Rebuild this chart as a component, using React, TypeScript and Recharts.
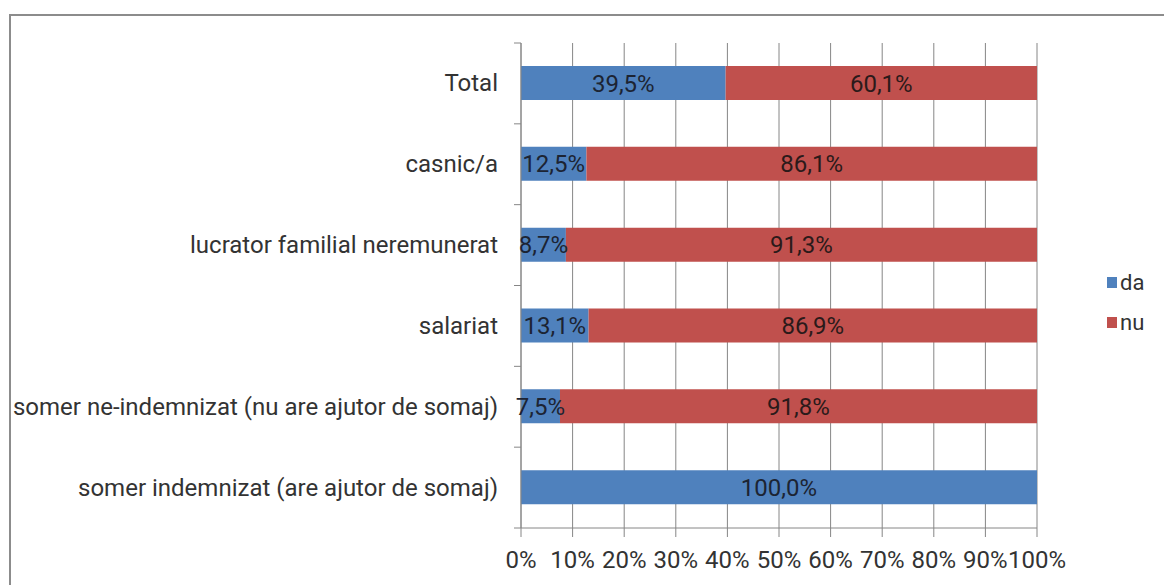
import React from "react";
import {
  BarChart,
  Bar,
  XAxis,
  YAxis,
  CartesianGrid,
  Legend,
  LabelList,
} from "recharts";

const categories = [
  "Total",
  "casnic/a",
  "lucrator familial neremunerat",
  "salariat",
  "somer ne-indemnizat (nu are ajutor de somaj)",
  "somer indemnizat (are ajutor de somaj)",
];
const daValues = [39.5, 12.5, 8.7, 13.1, 7.5, 100.0];
const nuValues = [60.1, 86.1, 91.3, 86.9, 91.8, null];
const xTicks = [0, 0.1, 0.2, 0.3, 0.4, 0.5, 0.6, 0.7, 0.8, 0.9, 1];

const data = categories.map((name, i) => ({
  name,
  da: daValues[i],
  nu: nuValues[i],
}));

const W = 1164;
const H = 585;
const MARGIN = { top: 43, right: 127, bottom: 17, left: 0 };
const X_AXIS_H = 40;
const Y_AXIS_W = 521;
const BAND = (H - MARGIN.top - MARGIN.bottom - X_AXIS_H) / categories.length;

const FONT = "Roboto, 'Liberation Sans', sans-serif";
const BLUE = "#4f81bd";
const RED = "#c0504d";
const AXIS = "#868686";

const fmt = (v: any) =>
  v == null || v === 0 ? "" : `${Number(v).toFixed(1).replace(".", ",")}%`;

function CategoryTick(props: any) {
  const { x, y, payload, index } = props;
  return (
    <g>
      <line x1={x - 7} x2={x} y1={y - BAND / 2} y2={y - BAND / 2} stroke={AXIS} />
      {index === categories.length - 1 && (
        <line x1={x - 7} x2={x} y1={y + BAND / 2} y2={y + BAND / 2} stroke={AXIS} />
      )}
      <text
        x={x - 23}
        y={y}
        textAnchor="end"
        dominantBaseline="central"
        fill="#333"
        fontSize={24}
        fontFamily={FONT}
      >
        {payload.value}
      </text>
    </g>
  );
}

function LegendBox() {
  const items = [
    { label: "da", color: BLUE },
    { label: "nu", color: RED },
  ];
  return (
    <div style={{ fontFamily: FONT, fontSize: 22, color: "#333" }}>
      {items.map((it) => (
        <div
          key={it.label}
          style={{ display: "flex", alignItems: "center", height: 40 }}
        >
          <span
            style={{
              width: 10,
              height: 11,
              background: it.color,
              display: "inline-block",
              marginRight: 3,
            }}
          />
          {it.label}
        </div>
      ))}
    </div>
  );
}

export default function App() {
  return (
    <div
      style={{
        position: "absolute",
        left: 0,
        top: 0,
        width: W,
        height: H,
        overflow: "hidden",
        background: "#fff",
      }}
    >
      <div
        style={{
          position: "absolute",
          left: 9,
          top: 14,
          width: 1300,
          height: 700,
          border: "2px solid #8c8c8c",
        }}
      />
      <div style={{ position: "absolute", left: 0, top: 0 }}>
        <BarChart
          width={W}
          height={H}
          data={data}
          layout="vertical"
          stackOffset="expand"
          margin={MARGIN}
        >
          <CartesianGrid horizontal={false} stroke={AXIS} />
          <XAxis
            type="number"
            domain={[0, 1]}
            ticks={xTicks}
            height={X_AXIS_H}
            tickFormatter={(v) => `${Math.round(v * 100)}%`}
            stroke={AXIS}
            tickSize={9}
            tickMargin={14}
            tick={{ fill: "#333", fontSize: 24, fontFamily: FONT }}
            interval={0}
          />
          <YAxis
            type="category"
            dataKey="name"
            width={Y_AXIS_W}
            stroke={AXIS}
            tickLine={false}
            tickSize={0}
            tickMargin={0}
            tick={<CategoryTick />}
            interval={0}
          />
          <Legend
            layout="horizontal"
            verticalAlign="middle"
            align="center"
            content={<LegendBox />}
            wrapperStyle={{ left: 1107, top: 262, width: 60 }}
          />
          <Bar dataKey="da" stackId="s" fill={BLUE} barSize={34} isAnimationActive={false}>
            <LabelList
              dataKey="da"
              position="center"
              formatter={fmt}
              fill="#1c2433"
              fontSize={24}
              fontFamily={FONT}
            />
          </Bar>
          <Bar dataKey="nu" stackId="s" fill={RED} barSize={34} isAnimationActive={false}>
            <LabelList
              dataKey="nu"
              position="center"
              formatter={fmt}
              fill="#2b1a1a"
              fontSize={24}
              fontFamily={FONT}
            />
          </Bar>
        </BarChart>
      </div>
    </div>
  );
}
